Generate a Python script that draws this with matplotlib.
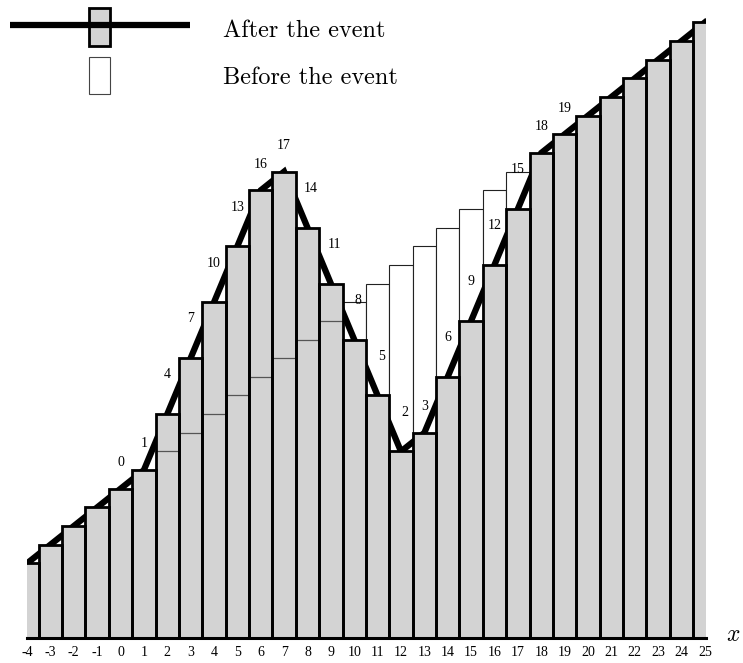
import matplotlib.pyplot as plt
from matplotlib.patches import Rectangle

plt.rcParams['mathtext.fontset'] = 'cm'

# bar positions along x
x_pos = list(range(-4, 26))
tick_labels = [str(v) for v in x_pos]

# bar heights before and after the event
before = [4, 5, 6, 7, 8, 9, 10, 11, 12, 13, 14, 15, 16, 17, 18,
          19, 20, 21, 22, 23, 24, 25, 26, 27, 28, 29, 30, 31, 32, 33]
after = [4, 5, 6, 7, 8, 9, 12, 15, 18, 21, 24, 25, 22, 19, 16,
         13, 10, 11, 14, 17, 20, 23, 26, 27, 28, 29, 30, 31, 32, 33]

# step numbers written along the path
step_x = list(range(0, 20))
step_labels = [0, 1, 4, 7, 10, 13, 16, 17, 14, 11, 8, 5, 2, 3, 6, 9, 12, 15, 18, 19]

GRAY = '#d3d3d3'
SERIF = 'Liberation Serif'

fig = plt.figure(figsize=(7.43, 6.63), dpi=100)
ax = fig.add_axes([27 / 743, 25 / 663, 679 / 743, 638 / 663])

# before the event: white bars with a thin outline
ax.bar(x_pos, before, width=1.0, color='white', edgecolor='#222222', linewidth=0.8, zorder=1)

# thick path through the tops of the new bars (hidden behind them)
ax.plot(x_pos, after, color='black', linewidth=4.5, solid_joinstyle='miter', zorder=2)

# after the event: gray fill
ax.bar(x_pos, after, width=1.0, color=GRAY, linewidth=0, zorder=3)

# old level shown inside the bars that grew
grew = [(x, b) for x, a, b in zip(x_pos, after, before) if a > b]
ax.hlines([b for _, b in grew], [x - 0.5 for x, _ in grew], [x + 0.5 for x, _ in grew],
          colors='#555555', linewidth=0.9, zorder=4)

# thick outline on top
ax.bar(x_pos, after, width=1.0, fill=False, edgecolor='black', linewidth=2.0, zorder=5)

# step numbers
for i, lab in zip(step_x, step_labels):
    k = x_pos.index(i)
    s_in = after[k] - after[k - 1]
    s_out = after[k + 1] - after[k]
    steep = (abs(s_in) > 1 and abs(s_out) > 1) or (s_in < 0 < s_out)
    dy = 2.1 if steep else 1.4
    dx = 0.15 if s_in < 0 else 0.0
    ax.text(i + dx, after[k] + dy, str(lab), ha='center', va='center',
            fontsize=10, family=SERIF, zorder=6)

ax.set_xlim(-4, 25.05)
ax.set_ylim(0, 34.2)
for s in ['left', 'right', 'top']:
    ax.spines[s].set_visible(False)
ax.spines['bottom'].set_linewidth(2.2)
ax.spines['bottom'].set_zorder(6)
ax.set_yticks([])
ax.set_xticks(x_pos)
ax.set_xticklabels(tick_labels, family=SERIF, fontsize=10)
ax.tick_params(axis='x', length=0, pad=6)
ax.text(1.04, 0.006, '$x$', transform=ax.transAxes, fontsize=17, ha='center', va='center')

# key in the top left corner
key = fig.add_axes([0, 0, 1, 1])
key.set_xlim(0, 743)
key.set_ylim(663, 0)
key.axis('off')
key.patch.set_visible(False)
key.plot([10, 190], [25, 25], color='black', linewidth=4.5, solid_capstyle='butt')
key.add_patch(Rectangle((89, 8), 21, 38, facecolor=GRAY, edgecolor='black', linewidth=2))
key.add_patch(Rectangle((89, 57), 21, 37, facecolor='white', edgecolor='#444444', linewidth=0.8))
key.text(223, 37, 'After the event', family='cmr10', fontsize=17.5, va='baseline')
key.text(223, 84, 'Before the event', family='cmr10', fontsize=17.5, va='baseline')

fig.savefig('out.png', dpi=100)
